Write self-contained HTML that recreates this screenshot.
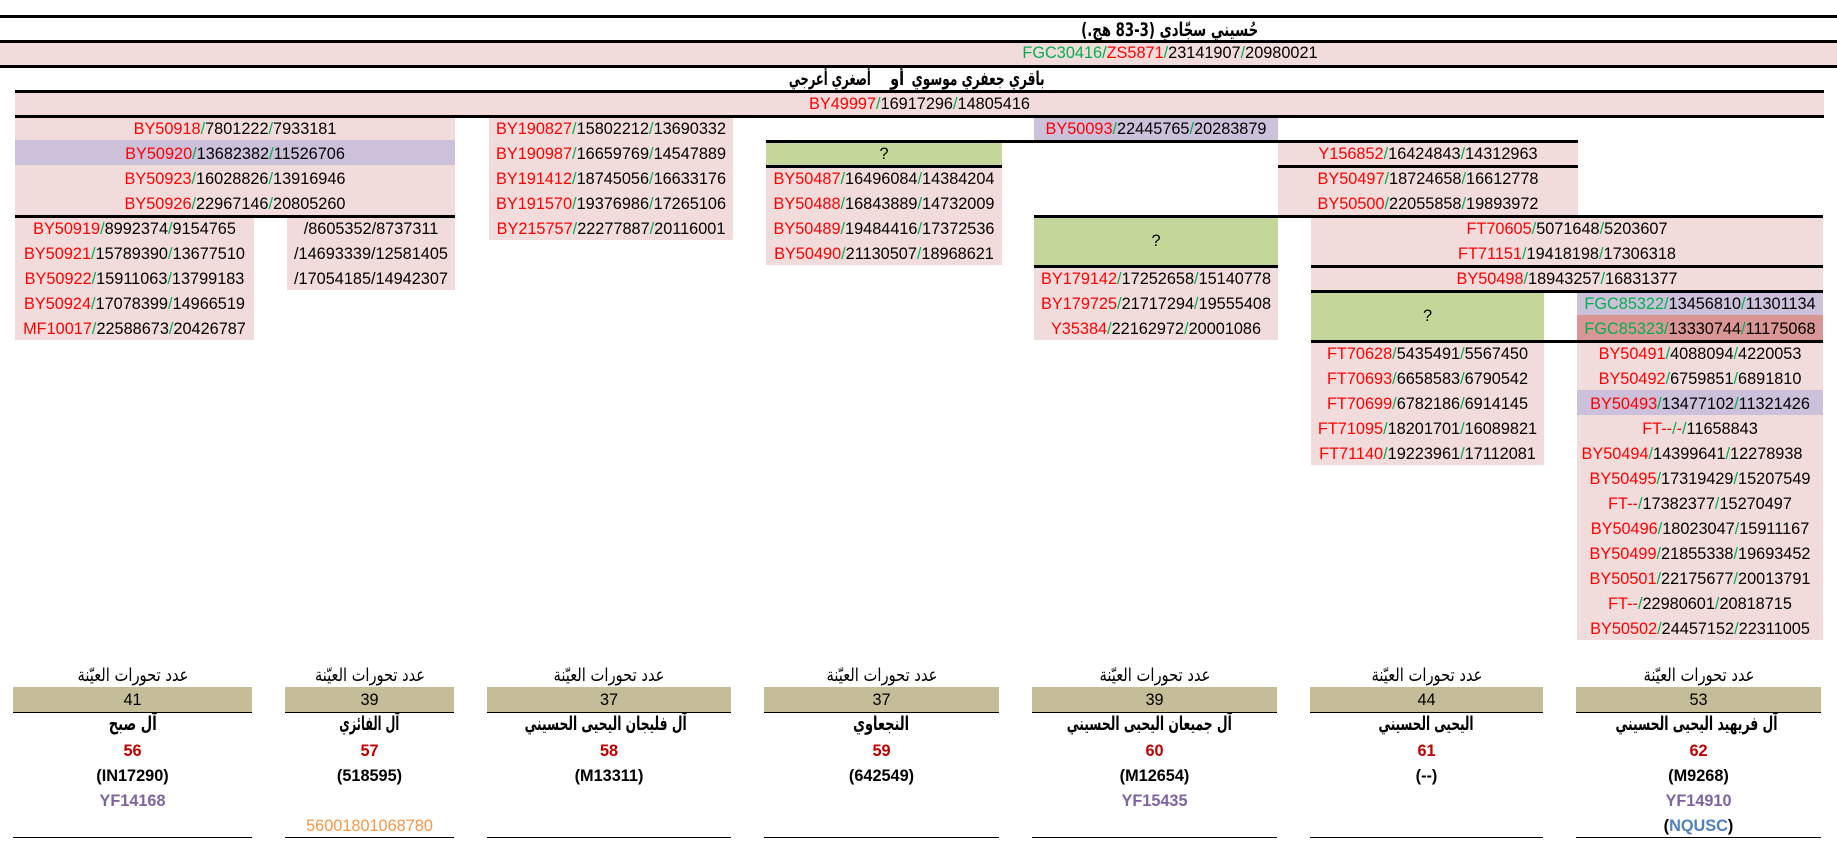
<!DOCTYPE html>
<html><head><meta charset="utf-8">
<style>
html,body{margin:0;padding:0;background:#fff}
#c{position:relative;width:1837px;height:850px;overflow:hidden;background:#fff;font-family:"Liberation Sans",sans-serif;font-size:16.3px;color:#000}
.b{position:absolute}
.ln{position:absolute;height:3px;background:#000}
.tl{position:absolute;height:1px;background:#000}
.t{position:absolute;height:25px;line-height:25px;text-align:center;white-space:nowrap}
.r{color:#ff0000}.g{color:#00b050}
.ar{font-family:"DejaVu Sans",sans-serif;font-size:18px}
.ar.bd{font-size:19px}
.fit{display:inline-block;white-space:nowrap;transform-origin:50% 50%}
.bd{font-weight:bold}
.dr{color:#c00000;font-weight:bold}
.pu{color:#8064a2;font-weight:bold}
.or{color:#f79646}
.bl{color:#4f81bd}
</style></head><body><div id="c">

<!-- backgrounds -->
<div class="b" style="left:0;top:40px;width:1837px;height:25px;background:#F2DCDB"></div>
<div class="b" style="left:15px;top:90px;width:1809px;height:25px;background:#F2DCDB"></div>
<div class="b" style="left:15px;top:115px;width:440px;height:100px;background:#F2DCDB"></div>
<div class="b" style="left:15px;top:140px;width:440px;height:25px;background:#CCC0DA"></div>
<div class="b" style="left:15px;top:215px;width:239px;height:125px;background:#F2DCDB"></div>
<div class="b" style="left:287px;top:215px;width:168px;height:75px;background:#F2DCDB"></div>
<div class="b" style="left:489px;top:115px;width:244px;height:125px;background:#F2DCDB"></div>
<div class="b" style="left:766px;top:140px;width:236px;height:25px;background:#C4D79B"></div>
<div class="b" style="left:766px;top:165px;width:236px;height:100px;background:#F2DCDB"></div>
<div class="b" style="left:1034px;top:115px;width:244px;height:25px;background:#CCC0DA"></div>
<div class="b" style="left:1034px;top:215px;width:244px;height:50px;background:#C4D79B"></div>
<div class="b" style="left:1034px;top:265px;width:244px;height:75px;background:#F2DCDB"></div>
<div class="b" style="left:1278px;top:140px;width:300px;height:75px;background:#F2DCDB"></div>
<div class="b" style="left:1311px;top:215px;width:512px;height:75px;background:#F2DCDB"></div>
<div class="b" style="left:1311px;top:290px;width:233px;height:50px;background:#C4D79B"></div>
<div class="b" style="left:1577px;top:290px;width:246px;height:25px;background:#CCC0DA"></div>
<div class="b" style="left:1577px;top:315px;width:246px;height:25px;background:#DA9694"></div>
<div class="b" style="left:1311px;top:340px;width:233px;height:125px;background:#F2DCDB"></div>
<div class="b" style="left:1577px;top:340px;width:246px;height:300px;background:#F2DCDB"></div>
<div class="b" style="left:1577px;top:390px;width:246px;height:25px;background:#CCC0DA"></div>

<!-- thick lines -->
<div class="ln" style="left:0;top:15px;width:1837px"></div>
<div class="ln" style="left:0;top:40px;width:1837px"></div>
<div class="ln" style="left:0;top:65px;width:1837px"></div>
<div class="ln" style="left:15px;top:90px;width:1809px"></div>
<div class="ln" style="left:15px;top:115px;width:1809px"></div>
<div class="ln" style="left:15px;top:215px;width:440px"></div>
<div class="ln" style="left:766px;top:140px;width:812px"></div>
<div class="ln" style="left:766px;top:165px;width:236px"></div>
<div class="ln" style="left:1278px;top:165px;width:300px"></div>
<div class="ln" style="left:1034px;top:215px;width:789px"></div>
<div class="ln" style="left:1034px;top:265px;width:244px"></div>
<div class="ln" style="left:1311px;top:265px;width:512px"></div>
<div class="ln" style="left:1311px;top:290px;width:512px"></div>
<div class="ln" style="left:1311px;top:340px;width:512px"></div>

<!-- top headers -->
<div class="t ar bd" dir="rtl" style="left:970px;width:400px;top:18px"><span class="fit" style="--w:177px">حُسيني سجّادي (3-83 هج.)</span></div>
<div class="t" style="left:970px;width:400px;top:41px"><span class="g">FGC30416</span><span class="g">/</span><span class="r">ZS5871</span><span class="g">/</span>23141907<span class="g">/</span>20980021</div>
<div class="t ar bd" dir="rtl" style="left:882px;width:200px;top:67px"><span class="fit" style="--w:133px">باقري جعفري موسوي</span></div>
<div class="t ar bd" dir="rtl" style="left:867px;width:60px;top:67px"><span class="fit" style="--w:14px">أو</span></div>
<div class="t ar bd" dir="rtl" style="left:750px;width:160px;top:67px"><span class="fit" style="--w:82px">أصغري أعرجي</span></div>
<div class="t" style="left:15px;width:1809px;top:92px"><span class="r">BY49997</span><span class="g">/</span>16917296<span class="g">/</span>14805416</div>

<!-- block A top -->
<div class="t" style="left:15px;width:440px;top:117px"><span class="r">BY50918</span><span class="g">/</span>7801222<span class="g">/</span>7933181</div>
<div class="t" style="left:15px;width:440px;top:142px"><span class="r">BY50920</span><span class="g">/</span>13682382<span class="g">/</span>11526706</div>
<div class="t" style="left:15px;width:440px;top:167px"><span class="r">BY50923</span><span class="g">/</span>16028826<span class="g">/</span>13916946</div>
<div class="t" style="left:15px;width:440px;top:192px"><span class="r">BY50926</span><span class="g">/</span>22967146<span class="g">/</span>20805260</div>

<!-- block A lower -->
<div class="t" style="left:15px;width:239px;top:217px"><span class="r">BY50919</span><span class="g">/</span>8992374<span class="g">/</span>9154765</div>
<div class="t" style="left:15px;width:239px;top:242px"><span class="r">BY50921</span><span class="g">/</span>15789390<span class="g">/</span>13677510</div>
<div class="t" style="left:15px;width:239px;top:267px"><span class="r">BY50922</span><span class="g">/</span>15911063<span class="g">/</span>13799183</div>
<div class="t" style="left:15px;width:239px;top:292px"><span class="r">BY50924</span><span class="g">/</span>17078399<span class="g">/</span>14966519</div>
<div class="t" style="left:15px;width:239px;top:317px"><span class="r">MF10017</span><span class="g">/</span>22588673<span class="g">/</span>20426787</div>

<!-- block B -->
<div class="t" style="left:287px;width:168px;top:217px">/8605352/8737311</div>
<div class="t" style="left:287px;width:168px;top:242px">/14693339/12581405</div>
<div class="t" style="left:287px;width:168px;top:267px">/17054185/14942307</div>

<!-- block C -->
<div class="t" style="left:489px;width:244px;top:117px"><span class="r">BY190827</span><span class="g">/</span>15802212<span class="g">/</span>13690332</div>
<div class="t" style="left:489px;width:244px;top:142px"><span class="r">BY190987</span><span class="g">/</span>16659769<span class="g">/</span>14547889</div>
<div class="t" style="left:489px;width:244px;top:167px"><span class="r">BY191412</span><span class="g">/</span>18745056<span class="g">/</span>16633176</div>
<div class="t" style="left:489px;width:244px;top:192px"><span class="r">BY191570</span><span class="g">/</span>19376986<span class="g">/</span>17265106</div>
<div class="t" style="left:489px;width:244px;top:217px"><span class="r">BY215757</span><span class="g">/</span>22277887<span class="g">/</span>20116001</div>

<!-- block D -->
<div class="t" style="left:766px;width:236px;top:142px">?</div>
<div class="t" style="left:766px;width:236px;top:167px"><span class="r">BY50487</span><span class="g">/</span>16496084<span class="g">/</span>14384204</div>
<div class="t" style="left:766px;width:236px;top:192px"><span class="r">BY50488</span><span class="g">/</span>16843889<span class="g">/</span>14732009</div>
<div class="t" style="left:766px;width:236px;top:217px"><span class="r">BY50489</span><span class="g">/</span>19484416<span class="g">/</span>17372536</div>
<div class="t" style="left:766px;width:236px;top:242px"><span class="r">BY50490</span><span class="g">/</span>21130507<span class="g">/</span>18968621</div>

<!-- block E -->
<div class="t" style="left:1034px;width:244px;top:117px"><span class="r">BY50093</span><span class="g">/</span>22445765<span class="g">/</span>20283879</div>
<div class="t" style="left:1034px;width:244px;top:229px">?</div>
<div class="t" style="left:1034px;width:244px;top:267px"><span class="r">BY179142</span><span class="g">/</span>17252658<span class="g">/</span>15140778</div>
<div class="t" style="left:1034px;width:244px;top:292px"><span class="r">BY179725</span><span class="g">/</span>21717294<span class="g">/</span>19555408</div>
<div class="t" style="left:1034px;width:244px;top:317px"><span class="r">Y35384</span><span class="g">/</span>22162972<span class="g">/</span>20001086</div>

<!-- block FG top -->
<div class="t" style="left:1278px;width:300px;top:142px"><span class="r">Y156852</span><span class="g">/</span>16424843<span class="g">/</span>14312963</div>
<div class="t" style="left:1278px;width:300px;top:167px"><span class="r">BY50497</span><span class="g">/</span>18724658<span class="g">/</span>16612778</div>
<div class="t" style="left:1278px;width:300px;top:192px"><span class="r">BY50500</span><span class="g">/</span>22055858<span class="g">/</span>19893972</div>

<!-- block FG wide -->
<div class="t" style="left:1311px;width:512px;top:217px"><span class="r">FT70605</span><span class="g">/</span>5071648<span class="g">/</span>5203607</div>
<div class="t" style="left:1311px;width:512px;top:242px"><span class="r">FT71151</span><span class="g">/</span>19418198<span class="g">/</span>17306318</div>
<div class="t" style="left:1311px;width:512px;top:267px"><span class="r">BY50498</span><span class="g">/</span>18943257<span class="g">/</span>16831377</div>

<!-- F ? and G -->
<div class="t" style="left:1311px;width:233px;top:304px">?</div>
<div class="t" style="left:1577px;width:246px;top:292px"><span class="g">FGC85322</span><span class="g">/</span>13456810<span class="g">/</span>11301134</div>
<div class="t" style="left:1577px;width:246px;top:317px"><span class="g">FGC85323</span><span class="g">/</span>13330744<span class="g">/</span>11175068</div>

<!-- F lower -->
<div class="t" style="left:1311px;width:233px;top:342px"><span class="r">FT70628</span><span class="g">/</span>5435491<span class="g">/</span>5567450</div>
<div class="t" style="left:1311px;width:233px;top:367px"><span class="r">FT70693</span><span class="g">/</span>6658583<span class="g">/</span>6790542</div>
<div class="t" style="left:1311px;width:233px;top:392px"><span class="r">FT70699</span><span class="g">/</span>6782186<span class="g">/</span>6914145</div>
<div class="t" style="left:1311px;width:233px;top:417px"><span class="r">FT71095</span><span class="g">/</span>18201701<span class="g">/</span>16089821</div>
<div class="t" style="left:1311px;width:233px;top:442px"><span class="r">FT71140</span><span class="g">/</span>19223961<span class="g">/</span>17112081</div>

<!-- G lower -->
<div class="t" style="left:1577px;width:246px;top:342px"><span class="r">BY50491</span><span class="g">/</span>4088094<span class="g">/</span>4220053</div>
<div class="t" style="left:1577px;width:246px;top:367px"><span class="r">BY50492</span><span class="g">/</span>6759851<span class="g">/</span>6891810</div>
<div class="t" style="left:1577px;width:246px;top:392px"><span class="r">BY50493</span><span class="g">/</span>13477102<span class="g">/</span>11321426</div>
<div class="t" style="left:1577px;width:246px;top:417px"><span class="r">FT--</span><span class="g">/</span><span class="r">-</span><span class="g">/</span>11658843</div>
<div class="t" style="left:1569px;width:246px;top:442px"><span class="r">BY50494</span><span class="g">/</span>14399641<span class="g">/</span>12278938</div>
<div class="t" style="left:1577px;width:246px;top:467px"><span class="r">BY50495</span><span class="g">/</span>17319429<span class="g">/</span>15207549</div>
<div class="t" style="left:1577px;width:246px;top:492px"><span class="r">FT--</span><span class="g">/</span>17382377<span class="g">/</span>15270497</div>
<div class="t" style="left:1577px;width:246px;top:517px"><span class="r">BY50496</span><span class="g">/</span>18023047<span class="g">/</span>15911167</div>
<div class="t" style="left:1577px;width:246px;top:542px"><span class="r">BY50499</span><span class="g">/</span>21855338<span class="g">/</span>19693452</div>
<div class="t" style="left:1577px;width:246px;top:567px"><span class="r">BY50501</span><span class="g">/</span>22175677<span class="g">/</span>20013791</div>
<div class="t" style="left:1577px;width:246px;top:592px"><span class="r">FT--</span><span class="g">/</span>22980601<span class="g">/</span>20818715</div>
<div class="t" style="left:1577px;width:246px;top:617px"><span class="r">BY50502</span><span class="g">/</span>24457152<span class="g">/</span>22311005</div>

<!-- bottom section -->
<!-- col 1 -->
<div class="b" style="left:13px;top:687px;width:239px;height:25px;background:#C4BD97"></div>
<div class="tl" style="left:13px;top:712px;width:239px"></div>
<div class="tl" style="left:13px;top:837px;width:239px"></div>
<div class="t ar" dir="rtl" style="left:13px;width:239px;top:663px"><span class="fit" style="--w:111px">عدد تحورات العيّنة</span></div>
<div class="t" style="left:13px;width:239px;top:688px">41</div>
<div class="t ar bd" dir="rtl" style="left:13px;width:239px;top:712px"><span class="fit" style="--w:48px">آل صبح</span></div>
<div class="t dr" style="left:13px;width:239px;top:739px">56</div>
<div class="t bd" style="left:13px;width:239px;top:764px">(IN17290)</div>
<div class="t pu" style="left:13px;width:239px;top:789px">YF14168</div>

<!-- col 2 -->
<div class="b" style="left:285px;top:687px;width:169px;height:25px;background:#C4BD97"></div>
<div class="tl" style="left:285px;top:712px;width:169px"></div>
<div class="tl" style="left:285px;top:837px;width:169px"></div>
<div class="t ar" dir="rtl" style="left:285px;width:169px;top:663px"><span class="fit" style="--w:110px">عدد تحورات العيّنة</span></div>
<div class="t" style="left:285px;width:169px;top:688px">39</div>
<div class="t ar bd" dir="rtl" style="left:285px;width:169px;top:712px"><span class="fit" style="--w:60px">آل الفائزي</span></div>
<div class="t dr" style="left:285px;width:169px;top:739px">57</div>
<div class="t bd" style="left:285px;width:169px;top:764px">(518595)</div>
<div class="t or" style="left:285px;width:169px;top:814px">56001801068780</div>

<!-- col 3 -->
<div class="b" style="left:487px;top:687px;width:244px;height:25px;background:#C4BD97"></div>
<div class="tl" style="left:487px;top:712px;width:244px"></div>
<div class="tl" style="left:487px;top:837px;width:244px"></div>
<div class="t ar" dir="rtl" style="left:487px;width:244px;top:663px"><span class="fit" style="--w:111px">عدد تحورات العيّنة</span></div>
<div class="t" style="left:487px;width:244px;top:688px">37</div>
<div class="t ar bd" dir="rtl" style="left:487px;width:244px;top:712px"><span class="fit" style="--w:162px">آل فليجان اليحيى الحسيني</span></div>
<div class="t dr" style="left:487px;width:244px;top:739px">58</div>
<div class="t bd" style="left:487px;width:244px;top:764px">(M13311)</div>

<!-- col 4 -->
<div class="b" style="left:764px;top:687px;width:235px;height:25px;background:#C4BD97"></div>
<div class="tl" style="left:764px;top:712px;width:235px"></div>
<div class="tl" style="left:764px;top:837px;width:235px"></div>
<div class="t ar" dir="rtl" style="left:764px;width:235px;top:663px"><span class="fit" style="--w:111px">عدد تحورات العيّنة</span></div>
<div class="t" style="left:764px;width:235px;top:688px">37</div>
<div class="t ar bd" dir="rtl" style="left:764px;width:235px;top:712px"><span class="fit" style="--w:56px">النجعاوي</span></div>
<div class="t dr" style="left:764px;width:235px;top:739px">59</div>
<div class="t bd" style="left:764px;width:235px;top:764px">(642549)</div>

<!-- col 5 -->
<div class="b" style="left:1032px;top:687px;width:245px;height:25px;background:#C4BD97"></div>
<div class="tl" style="left:1032px;top:712px;width:245px"></div>
<div class="tl" style="left:1032px;top:837px;width:245px"></div>
<div class="t ar" dir="rtl" style="left:1032px;width:245px;top:663px"><span class="fit" style="--w:111px">عدد تحورات العيّنة</span></div>
<div class="t" style="left:1032px;width:245px;top:688px">39</div>
<div class="t ar bd" dir="rtl" style="left:1032px;width:245px;top:712px"><span class="fit" style="--w:165px">آل جميعان اليحيى الحسيني</span></div>
<div class="t dr" style="left:1032px;width:245px;top:739px">60</div>
<div class="t bd" style="left:1032px;width:245px;top:764px">(M12654)</div>
<div class="t pu" style="left:1032px;width:245px;top:789px">YF15435</div>

<!-- col 6 -->
<div class="b" style="left:1310px;top:687px;width:233px;height:25px;background:#C4BD97"></div>
<div class="tl" style="left:1310px;top:712px;width:233px"></div>
<div class="tl" style="left:1310px;top:837px;width:233px"></div>
<div class="t ar" dir="rtl" style="left:1310px;width:233px;top:663px"><span class="fit" style="--w:111px">عدد تحورات العيّنة</span></div>
<div class="t" style="left:1310px;width:233px;top:688px">44</div>
<div class="t ar bd" dir="rtl" style="left:1310px;width:233px;top:712px"><span class="fit" style="--w:95px">اليحيى الحسيني</span></div>
<div class="t dr" style="left:1310px;width:233px;top:739px">61</div>
<div class="t bd" style="left:1310px;width:233px;top:764px">(--)</div>

<!-- col 7 -->
<div class="b" style="left:1576px;top:687px;width:245px;height:25px;background:#C4BD97"></div>
<div class="tl" style="left:1576px;top:712px;width:245px"></div>
<div class="tl" style="left:1576px;top:837px;width:245px"></div>
<div class="t ar" dir="rtl" style="left:1576px;width:245px;top:663px"><span class="fit" style="--w:111px">عدد تحورات العيّنة</span></div>
<div class="t" style="left:1576px;width:245px;top:688px">53</div>
<div class="t ar bd" dir="rtl" style="left:1576px;width:245px;top:712px"><span class="fit" style="--w:162px">آل فريهيد اليحيى الحسيني</span></div>
<div class="t dr" style="left:1576px;width:245px;top:739px">62</div>
<div class="t bd" style="left:1576px;width:245px;top:764px">(M9268)</div>
<div class="t pu" style="left:1576px;width:245px;top:789px">YF14910</div>
<div class="t bd" style="left:1576px;width:245px;top:814px">(<span class="bl">NQUSC</span>)</div>

</div>
<script>
(function(){
function fit(){
  var els=document.querySelectorAll('.fit');
  for(var i=0;i<els.length;i++){
    var e=els[i];
    e.style.transform='none';
    var w=parseFloat(e.style.getPropertyValue('--w'));
    var a=e.getBoundingClientRect().width;
    if(a>0&&w>0){e.style.transform='scaleX('+(w/a).toFixed(4)+')';}
  }
}
fit();
if(document.fonts&&document.fonts.ready){document.fonts.ready.then(fit);}
window.addEventListener('load',fit);
})();
</script>
</body></html>
